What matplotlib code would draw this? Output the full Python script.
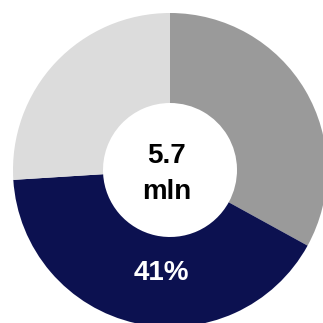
import matplotlib
matplotlib.use("Agg")
import matplotlib.pyplot as plt

categories = ["Segment A", "Segment B", "Segment C"]
values = [33, 41, 26]
colors = ["#9a9a9a", "#0c1150", "#dcdcdc"]
center_lines = ["5.7", "mln"]
slice_label = "41%"

W = H = 323
fig = plt.figure(figsize=(W / 100, H / 100), dpi=100)
ax = fig.add_axes([0, 0, 1, 1])
R_px = 157.0
cx, cy = 170.0, 170.0

hole = 67.0 / R_px
wedges, _ = ax.pie(values, colors=colors, startangle=90, counterclock=False,
                   radius=1.0, wedgeprops=dict(width=1.0 - hole, linewidth=0))
ax.set_xlim(-cx / R_px, (W - cx) / R_px)
ax.set_ylim(-(H - cy) / R_px, cy / R_px)
ax.set_aspect("equal")
ax.axis("off")

font = ["Liberation Sans", "DejaVu Sans"]
ax.text(-3 / R_px, 14 / R_px, center_lines[0], ha="center", va="center", fontsize=20,
        fontweight="bold", family=font, color="black")
ax.text(-3 / R_px, -22 / R_px, center_lines[1], ha="center", va="center", fontsize=20,
        fontweight="bold", family=font, color="black")
ax.text(-9 / R_px, -103 / R_px, slice_label, ha="center", va="center", fontsize=20,
        fontweight="bold", family=font, color="white")

fig.savefig("out.png", dpi=100, facecolor="white")
